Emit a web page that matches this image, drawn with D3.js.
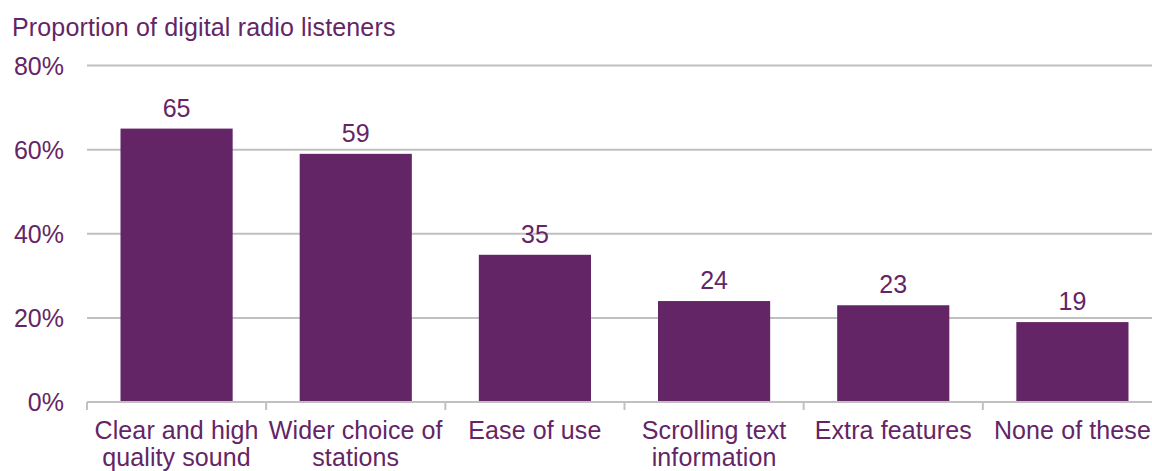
<!DOCTYPE html>
<html>
<head>
<meta charset="utf-8">
<script src="https://cdn.jsdelivr.net/npm/d3@7"></script>
<style>
  body { margin: 0; background: #fff; }
  svg text { font-family: "Liberation Sans", Arial, sans-serif; fill: #642566; }
</style>
</head>
<body>
<div id="chart"></div>
<script>
const categories = [
    ["Clear and high", "quality sound"],
    ["Wider choice of", "stations"],
    ["Ease of use"],
    ["Scrolling text", "information"],
    ["Extra features"],
    ["None of these"]
];
const values = [65, 59, 35, 24, 23, 19];
const yTicks = [0, 20, 40, 60, 80];
const title = "Proportion of digital radio listeners";

const width = 1152;
const height = 471;
const margin = { top: 65.5, right: -10, bottom: 69, left: 87 };
const purple = "#642566";

const svg = d3.select("#chart")
    .append("svg")
    .attr("width", width)
    .attr("height", height);

const keys = categories.map((c) => c.join(" "));

const xScale = d3.scaleBand()
    .domain(keys)
    .range([margin.left, width - margin.right])
    .paddingInner(0.374)
    .paddingOuter(0.187);

const yScale = d3.scaleLinear()
    .domain([0, 80])
    .range([height - margin.bottom, margin.top]);

// gridlines
svg.append("g")
    .selectAll("line")
    .data(yTicks.filter((t) => t > 0))
    .join("line")
    .attr("x1", margin.left)
    .attr("x2", width - margin.right)
    .attr("y1", (d) => yScale(d))
    .attr("y2", (d) => yScale(d))
    .attr("stroke", "#c0c0c0")
    .attr("stroke-width", 2);

// y labels
svg.append("g")
    .selectAll("text")
    .data(yTicks)
    .join("text")
    .attr("x", 64)
    .attr("y", (d) => yScale(d))
    .attr("dy", "0.36em")
    .attr("text-anchor", "end")
    .style("font-size", "25px")
    .text((d) => `${d}%`);

// bars
svg.append("g")
    .selectAll("rect")
    .data(values)
    .join("rect")
    .attr("x", (d, i) => xScale(keys[i]))
    .attr("y", (d) => yScale(d))
    .attr("width", xScale.bandwidth())
    .attr("height", (d) => yScale(0) - yScale(d))
    .attr("fill", purple);

// value labels
svg.append("g")
    .selectAll("text")
    .data(values)
    .join("text")
    .attr("x", (d, i) => xScale(keys[i]) + xScale.bandwidth() / 2)
    .attr("y", (d) => yScale(d) - 12)
    .attr("text-anchor", "middle")
    .style("font-size", "25px")
    .text((d) => d);

// x axis line + ticks
const step = xScale.step();
const x0 = margin.left;
const axisY = yScale(0);
svg.append("line")
    .attr("x1", x0).attr("x2", width - margin.right)
    .attr("y1", axisY).attr("y2", axisY)
    .attr("stroke", "#c0c0c0").attr("stroke-width", 2);

svg.append("g")
    .selectAll("line")
    .data(d3.range(keys.length + 1))
    .join("line")
    .attr("x1", (i) => x0 + i * step)
    .attr("x2", (i) => x0 + i * step)
    .attr("y1", axisY)
    .attr("y2", axisY + 8)
    .attr("stroke", "#c0c0c0")
    .attr("stroke-width", 2);

// category labels
const catG = svg.append("g")
    .selectAll("text")
    .data(categories)
    .join("text")
    .attr("x", (d, i) => xScale(keys[i]) + xScale.bandwidth() / 2)
    .attr("y", 439)
    .attr("text-anchor", "middle")
    .style("font-size", "25px")
    .style("letter-spacing", "0.1px");

catG.selectAll("tspan")
    .data((d) => d)
    .join("tspan")
    .attr("x", function () { return d3.select(this.parentNode).attr("x"); })
    .attr("dy", (d, i) => (i === 0 ? 0 : 27))
    .text((d) => d);

// title
svg.append("text")
    .attr("x", 12)
    .attr("y", 36)
    .style("font-size", "25px")
    .style("letter-spacing", "0.15px")
    .text(title);
</script>
</body>
</html>
